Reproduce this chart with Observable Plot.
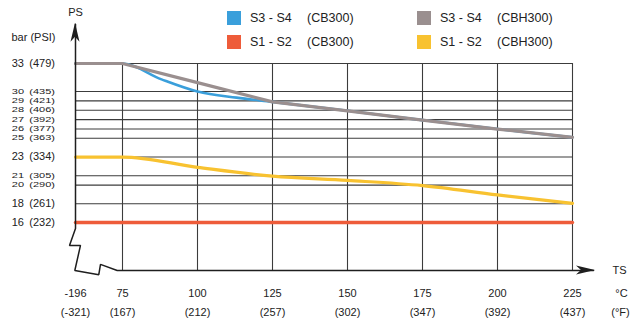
<!DOCTYPE html>
<html><head><meta charset="utf-8">
<script src="https://cdn.jsdelivr.net/npm/d3@7"></script>
<script src="https://cdn.jsdelivr.net/npm/@observablehq/plot@0.6"></script>
<style>
body{margin:0;background:#fff;}
#wrap{position:relative;width:632px;height:324px;font-family:"Liberation Sans",Arial,sans-serif;overflow:hidden}
.lg{position:absolute;font-size:12.5px;color:#222;white-space:pre;line-height:14px}
.sw{position:absolute;width:14px;height:14px}
</style></head><body><div id="wrap"></div>
<script>
// ---- data ----
const tempC = [-196, 75, 100, 125, 150, 175, 200, 225];
const tempF = [-321, 167, 212, 257, 302, 347, 392, 437];
const barTicks = [33, 30, 29, 28, 27, 26, 25, 23, 21, 20, 18, 16];
const psiTicks = [479, 435, 421, 406, 392, 377, 363, 334, 305, 290, 261, 232];
const gridTemps = [75, 100, 125, 150, 175, 200, 225];

const s34CBH300 = [33, 33, 30.95, 28.9, 27.94, 26.95, 25.99, 25.1];
const s12CBH300 = [23, 23, 21.9, 20.95, 20.5, 19.95, 18.95, 18.05];
const s12CB300  = [16, 16, 16, 16, 16, 16, 16, 16];
const s34CB300Temps = [-196, 75, 88, 100, 113, 125, 150, 175, 200, 225];
const s34CB300  = [33, 33, 31.3, 30, 29.35, 28.9, 27.94, 26.95, 25.99, 25.1];

const seriesNames = ["S3 - S4   (CB300)", "S1 - S2   (CB300)", "S3 - S4   (CBH300)", "S1 - S2   (CBH300)"];
const seriesColors = ["#3a9fdb", "#ee5c3a", "#9a8f8f", "#f8c230"];

// axis decoration (broken axes), in data units
const yBase = 10.87;
const yTop = 37.2;
const axisPath = [
  [-196, yTop], [-196, 15.36], [-230.6, 13.55], [-167.2, 13.55], [-200, yBase],
  [-61.7, 10.42], [-51.85, 11.52], [44.4, yBase], [75, yBase], [232, yBase]
];

// ---- build tables ----
const mk = (temps, vals, name) => temps.map((t, i) => ({t, v: vals[i], name}));
const blue = mk(s34CB300Temps, s34CB300, seriesNames[0]);
const red = mk(tempC, s12CB300, seriesNames[1]);
const gray = mk(tempC, s34CBH300, seriesNames[2]);
const yellow = mk(tempC, s12CBH300, seriesNames[3]);

const txt = {fontSize: 11, fill: "#222", fontFamily: "Liberation Sans, Arial, sans-serif"};

const plot = Plot.plot({
  width: 632,
  height: 324,
  style: {background: "#fff", fontFamily: "Liberation Sans, Arial, sans-serif"},
  x: {type: "linear", domain: [-196, 75, 225], range: [75, 122, 572], axis: null},
  y: {type: "linear", domain: [16, 33], range: [222, 63], axis: null},
  marks: [
    Plot.ruleY(barTicks, {y: d => d, x1: -196, x2: 225, stroke: "#3c3c3c", strokeWidth: 1.1}),
    Plot.ruleX(gridTemps, {x: d => d, y1: yBase, y2: 33, stroke: "#3c3c3c", strokeWidth: 1.1}),
    Plot.line(red, {x: "t", y: "v", stroke: seriesColors[1], strokeWidth: 3.4}),
    Plot.line(blue, {x: "t", y: "v", stroke: seriesColors[0], strokeWidth: 2.6, curve: "monotone-x"}),
    Plot.line(gray, {x: "t", y: "v", stroke: seriesColors[2], strokeWidth: 3.2}),
    Plot.line(yellow, {x: "t", y: "v", stroke: seriesColors[3], strokeWidth: 3.2, curve: "monotone-x"}),
    Plot.line(axisPath, {x: d => d[0], y: d => d[1], stroke: "#1e1e1e", strokeWidth: 1.5, strokeLinejoin: "miter"}),
    // x tick labels
    Plot.text(tempC, {x: d => d, y: yBase, text: d => String(d), dy: 23, ...txt}),
    Plot.text(tempF, {x: (d, i) => tempC[i], y: yBase, text: d => `(${d})`, dy: 42, ...txt}),
    // unit labels
    Plot.text(["bar (PSI)"], {x: -196, y: 33, dx: -20, dy: -26, textAnchor: "end", text: d => d, ...txt}),
    Plot.text(["PS"], {x: -196, y: 33, dy: -51, text: d => d, ...txt}),
    Plot.text(["TS"], {x: 225, y: yBase, dx: 40, textAnchor: "start", text: d => d, ...txt}),
    Plot.text(["°C"], {x: 225, y: yBase, dx: 49, dy: 23, text: d => d, ...txt}),
    Plot.text(["(°F)"], {x: 225, y: yBase, dx: 48, dy: 42, text: d => d, ...txt})
  ]
});

document.getElementById("wrap").appendChild(plot);

const sx = plot.scale("x"), sy = plot.scale("y");
const svg = d3.select(plot);

// y tick labels (through the y scale); dense ones squashed vertically as in the original
const x0 = sx.apply(-196);
const lab = svg.append("g")
  .attr("font-family", "Liberation Sans, Arial, sans-serif")
  .attr("font-size", 11).attr("fill", "#222").attr("text-anchor", "end");
barTicks.forEach((b, i) => {
  const py = sy.apply(b);
  const prev = i > 0 ? Math.abs(sy.apply(barTicks[i - 1]) - py) : 99;
  const next = i < barTicks.length - 1 ? Math.abs(sy.apply(barTicks[i + 1]) - py) : 99;
  const gap = Math.min(prev, next);
  const k = gap < 12 ? 0.72 : 1;
  const g = lab.append("g").attr("transform", `translate(0,${py}) scale(1,${k})`);
  g.append("text").attr("x", x0 - 51).attr("dy", "0.32em").text(String(b));
  g.append("text").attr("x", x0 - 20).attr("dy", "0.32em").text(`(${psiTicks[i]})`);
});

// arrowheads
const ux = sx.apply(-196), uy = sy.apply(yTop);
svg.append("path")
  .attr("d", `M${ux},${uy - 1}L${ux - 4.5},${uy + 18}L${ux},${uy + 13}L${ux + 4.5},${uy + 18}Z`)
  .attr("fill", "#1e1e1e");
const rx = sx.apply(232), ry = sy.apply(yBase);
svg.append("path")
  .attr("d", `M${rx + 2},${ry}L${rx - 17},${ry - 4.5}L${rx - 12},${ry}L${rx - 17},${ry + 4.5}Z`)
  .attr("fill", "#1e1e1e");

// legend (HTML, above the chart area)
const wrap = document.getElementById("wrap");
const legendPos = [[227, 11], [227, 35], [417, 11], [417, 35]];
seriesNames.forEach((n, i) => {
  const [lx, ly] = legendPos[i];
  const sw = document.createElement("div");
  sw.className = "sw";
  sw.style.left = lx + "px"; sw.style.top = ly + "px"; sw.style.background = seriesColors[i];
  wrap.appendChild(sw);
  const [a, b] = n.split(/\s{3}/);
  const t1 = document.createElement("div");
  t1.className = "lg"; t1.textContent = a;
  t1.style.left = (lx + 23) + "px"; t1.style.top = ly + "px";
  wrap.appendChild(t1);
  const t2 = document.createElement("div");
  t2.className = "lg"; t2.textContent = b;
  t2.style.left = (lx + 80) + "px"; t2.style.top = ly + "px";
  wrap.appendChild(t2);
});
plot.style.position = "absolute"; plot.style.left = "0"; plot.style.top = "0";
</script>
</body></html>
